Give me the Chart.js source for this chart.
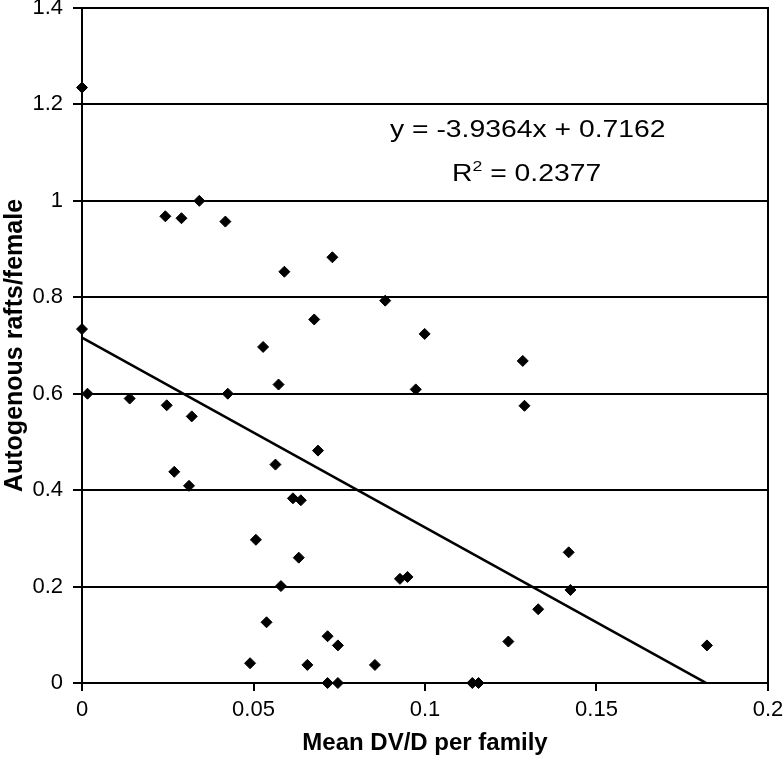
<!DOCTYPE html>
<html>
<head>
<meta charset="utf-8">
<script src="https://cdn.jsdelivr.net/npm/chart.js@4/dist/chart.umd.min.js"></script>
<style>
  html, body { margin: 0; padding: 0; background: #fff; }
</style>
</head>
<body>
<canvas id="chart" width="784" height="758"></canvas>
<script>
// Mean DV/D per family (x) and autogenous rafts/female (y)
const dvd = [0, 0, 0.0016, 0.0139, 0.0243, 0.0247, 0.0269, 0.029, 0.0312, 0.032,
  0.0342, 0.0418, 0.0425, 0.049, 0.0507, 0.0528, 0.0538, 0.0564, 0.0573, 0.058,
  0.059, 0.0615, 0.0632, 0.0638, 0.0657, 0.0677, 0.0688, 0.0716, 0.0716, 0.073,
  0.0746, 0.0746, 0.0854, 0.0884, 0.0927, 0.0949, 0.0973, 0.0999, 0.1138, 0.1156,
  0.1243, 0.1285, 0.129, 0.133, 0.1419, 0.1424, 0.1822];
const rafts = [1.235, 0.734, 0.600, 0.590, 0.968, 0.576, 0.438, 0.964, 0.409, 0.553,
  1.0, 0.957, 0.600, 0.041, 0.297, 0.697, 0.126, 0.453, 0.619, 0.201,
  0.853, 0.383, 0.260, 0.379, 0.0375, 0.754, 0.482, 0.097, 0, 0.883,
  0.078, 0, 0.0375, 0.793, 0.216, 0.220, 0.609, 0.724, 0, 0,
  0.086, 0.668, 0.575, 0.153, 0.271, 0.193, 0.078];

// linear trendline as printed on the chart
const trendSlope = -3.9364;
const trendIntercept = 0.7162;
const trendR2 = 0.2377;
const trendXRange = [0, 0.1819];

const xTicks = [0, 0.05, 0.1, 0.15, 0.2];
const yTicks = [0, 0.2, 0.4, 0.6, 0.8, 1, 1.2, 1.4];

const FONT = '"Liberation Sans", Arial, sans-serif';
const fmt = v => String(Number(v.toFixed(4)));

const points = dvd.map((x, i) => ({ x: x, y: rafts[i] }));
const trend = trendXRange.map(x => ({ x: x, y: trendSlope * x + trendIntercept }));

// right frame line + regression text
const extras = {
    id: 'extras',
    afterDraw(chart) {
        const { ctx, chartArea: a } = chart;
        ctx.save();
        ctx.strokeStyle = '#000';
        ctx.lineWidth = 2;
        ctx.beginPath();
        ctx.moveTo(a.right, a.top - 1);
        ctx.lineTo(a.right, a.bottom + 1);
        ctx.stroke();

        ctx.fillStyle = '#000';
        ctx.textBaseline = 'alphabetic';
        ctx.textAlign = 'left';

        // equation line
        ctx.save();
        ctx.translate(390, 137);
        ctx.scale(1.18, 1);
        ctx.font = '24px ' + FONT;
        ctx.fillText('y = ' + trendSlope + 'x + ' + trendIntercept, 0, 0);
        ctx.restore();

        // R squared line
        ctx.save();
        ctx.translate(452, 181);
        ctx.scale(1.18, 1);
        ctx.font = '24px ' + FONT;
        ctx.fillText('R', 0, 0);
        let w = ctx.measureText('R').width;
        ctx.font = '15px ' + FONT;
        ctx.fillText('2', w, -10);
        w += ctx.measureText('2').width;
        ctx.font = '24px ' + FONT;
        ctx.fillText(' = ' + trendR2, w, 0);
        ctx.restore();

        ctx.restore();
    }
};

new Chart(document.getElementById('chart').getContext('2d'), {
    type: 'scatter',
    data: {
        datasets: [
            {
                label: 'Families',
                data: points,
                pointStyle: 'rectRot',
                pointRadius: 5.5,
                backgroundColor: '#000',
                borderColor: '#000',
                borderWidth: 1,
                clip: false
            },
            {
                label: 'Linear trend',
                type: 'line',
                data: trend,
                borderColor: '#000',
                borderWidth: 2.5,
                pointRadius: 0,
                fill: false,
                clip: false
            }
        ]
    },
    options: {
        responsive: false,
        animation: false,
        layout: { padding: { left: 0, top: 8, right: 16, bottom: 0 } },
        plugins: {
            legend: { display: false },
            tooltip: { enabled: false }
        },
        scales: {
            x: {
                type: 'linear',
                min: 0,
                max: 0.2,
                afterBuildTicks: s => { s.ticks = xTicks.map(v => ({ value: v })); },
                afterFit: s => { s.height = 75; s.paddingLeft = 0; s.paddingRight = 0; },
                ticks: { callback: fmt, color: '#000', padding: 6, maxRotation: 0,
                    font: { family: FONT, size: 22 } },
                grid: { drawOnChartArea: false, drawTicks: true, tickLength: 8,
                    color: '#000', lineWidth: 2 },
                border: { display: true, color: '#000', width: 2 },
                title: { display: true, text: 'Mean DV/D per family', color: '#000',
                    padding: { top: 0, bottom: 0 },
                    font: { family: FONT, size: 24, weight: 'bold' } }
            },
            y: {
                type: 'linear',
                min: 0,
                max: 1.4,
                afterBuildTicks: s => { s.ticks = yTicks.map(v => ({ value: v })); },
                afterFit: s => { s.width = 82; s.paddingTop = 0; s.paddingBottom = 0; },
                ticks: { callback: fmt, color: '#000', padding: 10,
                    font: { family: FONT, size: 22 } },
                grid: { drawTicks: true, tickLength: 9, color: '#000', lineWidth: 2 },
                border: { display: true, color: '#000', width: 2 },
                title: { display: true, text: 'Autogenous rafts/female', color: '#000',
                    padding: { top: 0, bottom: 0 },
                    font: { family: FONT, size: 25, weight: 'bold' } }
            }
        }
    },
    plugins: [extras]
});
</script>
</body>
</html>
